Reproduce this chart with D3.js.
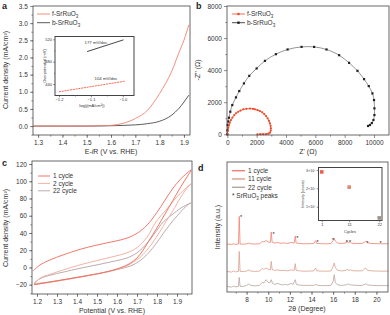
<!DOCTYPE html>
<html>
<head>
<meta charset="utf-8">
<script src="https://cdn.jsdelivr.net/npm/d3@7"></script>
<style>
body { margin: 0; background: #fff; }
svg { display: block; font-family: "Liberation Sans", Arial, sans-serif; }
</style>
</head>
<body>
<svg id="fig" width="390" height="315"></svg>
<script>
// ---- panel a : LSV ----
const lsvV      = [1.28, 1.40, 1.50, 1.55, 1.60, 1.65, 1.70, 1.75, 1.80, 1.85, 1.88, 1.90, 1.92];
const lsvFilm   = [0, 0, 0.003, 0.008, 0.02, 0.08, 0.22, 0.46, 0.95, 1.6, 2.15, 2.5, 2.95];
const lsvBulk   = [0, 0, 0, 0.003, 0.01, 0.02, 0.035, 0.07, 0.14, 0.32, 0.52, 0.7, 0.9];
const tafelFilm = [[-1.20, 426], [-0.994, 445]];
const tafelBulk = [[-1.112, 498], [-0.998, 519]];

// ---- panel b : Nyquist ----
const eisFilm = [[0,0],[30,200],[70,400],[116,560],[170,720],[252,890],[350,1040],[476,1200],[600,1310],
  [748,1406],[900,1480],[1088,1555],[1300,1590],[1544,1600],[1750,1590],[1884,1555],[2060,1510],
  [2224,1450],[2380,1370],[2517,1263],[2640,1140],[2748,995],[2840,840],[2905,684],[2950,530],
  [2973,373],[2960,230],[2905,100],[2800,40],[2650,15],[2450,8],[2250,5],[2050,0]];
const eisBulk = [[0,0],[10,250],[27,579],[70,800],[116,1033],[204,1406],[340,1823],[592,2302],
  [816,2694],[1136,3173],[1497,3645],[2000,4106],[2565,4579],[3313,4995],[4109,5288],[5061,5449],
  [5918,5449],[6762,5288],[7619,4933],[8299,4454],[8871,3957],[9320,3440],[9640,3005],[9891,2550],
  [10000,2134],[10027,1617],[10027,1200],[9959,890],[9850,700],[9720,580],[9592,516]];

// ---- panel c : CV ----
const cvNames = ["1 cycle", "2 cycle", "22 cycle"];
const cv1  = [[1.18,-4],[1.215,2.9],[1.265,8.7],[1.33,14.5],[1.415,21],[1.5,26],[1.58,30],[1.65,34],
  [1.70,39.6],[1.75,49],[1.80,64],[1.84,78],[1.88,92],[1.92,103],[1.97,113],
  [1.95,105],[1.92,94],[1.88,78],[1.84,62],[1.80,46],[1.76,31],[1.73,20],[1.70,11],[1.66,4],[1.62,0],
  [1.55,-5],[1.45,-9.5],[1.35,-13.5],[1.25,-17.5],[1.185,-20]];
const cv2  = [[1.185,-20],[1.215,-12.5],[1.265,-8],[1.33,-3],[1.415,3],[1.5,8],[1.58,12.5],[1.65,17],
  [1.70,23],[1.75,35],[1.795,53],[1.85,68],[1.90,82],[1.94,91],[1.97,97],
  [1.95,92],[1.92,82],[1.88,66],[1.85,55],[1.81,40],[1.77,26],[1.73,15],[1.70,9],[1.65,2],[1.60,-2],
  [1.50,-7.5],[1.40,-12],[1.30,-16],[1.185,-20]];
const cv22 = [[1.185,-18],[1.215,-13],[1.265,-9],[1.33,-5.5],[1.415,-1],[1.5,3],[1.58,7],[1.65,11],
  [1.70,17],[1.75,28],[1.79,40],[1.832,53],[1.88,62],[1.92,69],[1.97,75],
  [1.95,72],[1.92,65],[1.89,57],[1.865,50],[1.83,39],[1.79,26],[1.75,15],[1.71,7],[1.67,2],[1.60,-2.5],
  [1.50,-7.5],[1.40,-11.5],[1.30,-15.5],[1.185,-19]];

// ---- panel d : XRD ----
const xrdNames = ["1 cycle", "11 cycle", "22 cycle"];
const xrd1 = [[6.2,1],[6.6,0.5],[6.8,1.2],[7.0,0.6],[7.25,1],[7.32,28.6],[7.4,1],[7.7,0.8],[8.0,1.2],
  [8.2,2],[8.4,1.2],[8.8,1],[9.2,1.3],[9.45,3.5],[9.6,3],[9.8,4.5],[10.0,3],[10.2,2.5],[10.28,13],
  [10.36,3],[10.6,2],[10.9,2.5],[11.1,1.8],[11.5,2],[11.8,1.5],[12.1,2.5],[12.4,2],[12.5,9],[12.58,2],
  [12.9,1.5],[13.3,1.2],[13.8,1.3],[14.2,1.5],[14.38,4.3],[14.48,1.6],[14.9,1.3],[15.4,1.2],[15.8,1.5],
  [16.0,4.5],[16.1,6.7],[16.2,4],[16.4,2],[16.8,1.5],[17.2,2],[17.27,4],[17.4,2.2],[17.57,3.3],[17.7,1.8],
  [18.2,1.5],[18.7,1.6],[18.9,3],[19.0,4],[19.15,2.2],[19.6,1.5],[20.2,1.3],[20.7,1.2],[21.1,1.3]];
const xrd11 = [[6.2,1],[6.6,0.3],[6.8,1.5],[7.0,0.5],[7.25,1],[7.32,21],[7.4,1],[7.7,0.8],[8.0,1.3],
  [8.2,2.5],[8.4,1.3],[8.8,1],[9.2,1.3],[9.45,4],[9.6,3],[9.8,4.5],[10.0,3],[10.2,2.5],[10.28,11],
  [10.36,3],[10.6,2],[10.9,2.5],[11.1,1.8],[11.5,2],[11.8,1.5],[12.1,2.5],[12.4,2],[12.5,8.7],[12.58,2],
  [12.9,1.5],[13.3,1.2],[13.8,1.3],[14.2,1.5],[14.38,4.4],[14.48,1.6],[14.9,1.3],[15.4,1.2],[15.8,1.5],
  [16.0,6],[16.1,9.4],[16.2,5],[16.4,2],[16.8,1.5],[17.2,2],[17.3,3.4],[17.45,2],[17.6,2.6],[17.75,1.8],
  [18.2,1.5],[18.7,1.6],[18.9,3.5],[19.0,4.4],[19.15,2.2],[19.6,1.5],[20.2,1.3],[20.7,1.2],[21.1,1.3]];
const xrd22 = [[6.2,1],[6.6,0.3],[6.8,1.3],[7.0,0.5],[7.25,1],[7.32,10],[7.4,1],[7.7,1],[8.0,2],
  [8.2,3.5],[8.4,2],[8.8,1.5],[9.2,2],[9.45,5],[9.6,4.5],[9.8,7.7],[10.0,5],[10.15,4.5],[10.28,7.7],
  [10.4,4],[10.6,3],[10.9,4],[11.1,3],[11.3,2.5],[11.5,3],[11.8,2.5],[12.1,4],[12.3,3],[12.5,7.7],
  [12.6,3],[12.9,2.2],[13.3,2],[13.8,2],[14.2,2],[14.4,3],[14.6,2],[14.9,1.8],[15.4,1.8],[15.8,2],
  [16.0,6],[16.1,12.7],[16.2,5],[16.4,2.5],[16.8,2],[17.2,2.5],[17.4,3.5],[17.6,2.5],[18.2,2],
  [18.7,2],[19.0,3.5],[19.2,2.5],[19.6,2],[20.2,1.8],[20.7,1.8],[21.1,1.8]];
const xrdBase  = [47, 19.6, 4.6];
const starPos  = [7.48, 10.5, 12.68, 14.57, 16.0, 17.27, 17.57, 19.16, 20.39];
const starHt   = [28.6, 12, 8, 3.6, 6, 4.3, 3.6, 3, 3];
const insetCycles    = [1, 11, 22];
const insetIntensity = [2.9e7, 2.07e7, 0.39e7];

const red = "#f4806e", dark = "#4a4a4a";
const cvColors  = ["#f06a5a", "#f2aa9a", "#b4a4a4"];
const xrdColors = ["#f08070", "#dca08c", "#b8a49c"];
const FONT = "'Liberation Sans', Arial, sans-serif";

const svg = d3.select("#fig");



// PANEL HELPERS

function panel(box, xd, yd)
{
  const x = d3.scaleLinear().domain(xd).range([box.l, box.r]);
  const y = d3.scaleLinear().domain(yd).range([box.b, box.t]);
  const g = svg.append("g");
  return {x: x, y: y, g: g, box: box};
}

function frame(p, sw)
{
  p.g.append("rect")
    .attr("x", p.box.l).attr("y", p.box.t)
    .attr("width", p.box.r - p.box.l).attr("height", p.box.b - p.box.t)
    .attr("fill", "none").attr("stroke", "#444").attr("stroke-width", sw || 0.8);
}

function axis(p, side, ticks, minor, fmt, fs, size)
{
  size = size || 3;
  const bottom = side == "bottom";
  const make = s => (bottom ? d3.axisBottom(p.x) : d3.axisLeft(p.y)).tickSizeOuter(0).tickSize(s);
  const pos = bottom ? `translate(0,${p.box.b})` : `translate(${p.box.l},0)`;
  if(minor)
  {
    const m = p.g.append("g").attr("transform", pos)
      .call(make(size * 0.55).tickValues(minor).tickFormat(""));
    m.select(".domain").remove();
    m.selectAll("line").attr("stroke", "#444").attr("stroke-width", 0.6);
  }
  const a = p.g.append("g").attr("transform", pos)
    .call(make(size).tickValues(ticks).tickPadding(size * 0.7).tickFormat(fmt));
  a.attr("font-size", fs).attr("font-family", FONT);
  a.select(".domain").remove();
  a.selectAll("line").attr("stroke", "#444").attr("stroke-width", 0.6);
  a.selectAll("text").attr("fill", "#333");
  return a;
}

function label(g, x, y, txt, fs, rot, anchor)
{
  return g.append("text")
    .attr("transform", `translate(${x},${y})` + (rot ? ` rotate(${rot})` : ""))
    .attr("text-anchor", anchor || "middle")
    .attr("font-size", fs).attr("fill", "#333")
    .text(txt);
}

function srruo(g, x, y, prefix, fs)
{
  const t = g.append("text").attr("x", x).attr("y", y).attr("font-size", fs).attr("fill", "#333");
  t.append("tspan").text(prefix + "SrRuO");
  t.append("tspan").attr("font-size", fs * 0.7).attr("dy", fs * 0.25).text("3");
  return t;
}

function letter(x, y, s)
{
  svg.append("text").attr("x", x).attr("y", y)
    .attr("font-size", 9).attr("font-weight", "bold").attr("fill", "#222").text(s);
}

const fmt1 = d3.format(".1f");



// PANEL A

const pa = panel({l: 33, r: 190, t: 6, b: 135}, [1.279, 1.925], [-0.26, 3.5]);
const lineA = d3.line().x(d => pa.x(d[0])).y(d => pa.y(d[1])).curve(d3.curveMonotoneX);
pa.g.append("path").datum(lsvV.map((v, i) => [v, lsvBulk[i]]))
  .attr("d", lineA).attr("fill", "none").attr("stroke", dark).attr("stroke-width", 0.9);
pa.g.append("path").datum(lsvV.map((v, i) => [v, lsvFilm[i]]))
  .attr("d", lineA).attr("fill", "none").attr("stroke", red).attr("stroke-width", 0.9);
frame(pa);
axis(pa, "bottom", d3.range(1.3, 1.95, 0.1), d3.range(1.3, 1.93, 0.05), fmt1, 6.5);
axis(pa, "left", d3.range(0, 3.51, 0.5), d3.range(-0.25, 3.5, 0.25), fmt1, 6.5);
label(svg, 111, 154, "", 7).call(t => {
  t.append("tspan").text("E-");
  t.append("tspan").attr("font-style", "italic").text("i");
  t.append("tspan").text("R (V vs. RHE)");
});
label(svg, 8, 70, "Current density (mA/cm²)", 7, -90);

// legend a
[[red, "f-", 14], [dark, "b-", 22.7]].forEach(l => {
  pa.g.append("line").attr("x1", 37).attr("x2", 50).attr("y1", l[2]).attr("y2", l[2])
    .attr("stroke", l[0]).attr("stroke-width", 0.9);
  srruo(pa.g, 52, l[2] + 2.3, l[1], 6.5);
});

// inset a
const ia = panel({l: 55, r: 134, t: 36.5, b: 95.5}, [-1.2125, -0.965], [419.4, 525]);
ia.g.append("rect").attr("x", 55).attr("y", 36.5).attr("width", 79).attr("height", 59).attr("fill", "#fff");
const lineI = d3.line().x(d => ia.x(d[0])).y(d => ia.y(d[1]));
ia.g.append("path").datum(tafelBulk).attr("d", lineI)
  .attr("fill", "none").attr("stroke", "#333").attr("stroke-width", 0.9);
ia.g.append("path").datum(tafelFilm).attr("d", lineI)
  .attr("fill", "none").attr("stroke", "#f05a40").attr("stroke-width", 0.9).attr("stroke-dasharray", "2,0.8");
frame(ia, 1);
axis(ia, "bottom", [-1.2, -1.1, -1.0], [-1.15, -1.05], fmt1, 4, 1.8);
axis(ia, "left", [440, 480, 520], [460, 500], d3.format("d"), 4, 1.8);
label(ia.g, 96, 43.5, "177 mV/dec", 4.3, 0, "middle");
label(ia.g, 106, 80, "104 mV/dec", 4.3, 0, "middle");
label(ia.g, 46, 66, "Overpotential (mV)", 4, -90);
label(ia.g, 92, 107, "log(j(mA/cm²))", 4);



// PANEL B

const pb = panel({l: 227, r: 389, t: 6, b: 135}, [-20, 11020], [-45, 8000]);
const lineB = d3.line().x(d => pb.x(d[0])).y(d => pb.y(d[1])).curve(d3.curveCatmullRom);
pb.g.append("path").datum(eisBulk).attr("d", lineB)
  .attr("fill", "none").attr("stroke", "#666").attr("stroke-width", 0.7);
pb.g.selectAll(".mb").data(eisBulk).enter().append("rect")
  .attr("x", d => pb.x(d[0]) - 1.1).attr("y", d => pb.y(d[1]) - 1.1)
  .attr("width", 2.2).attr("height", 2.2).attr("fill", "#222");
pb.g.append("path").datum(eisFilm).attr("d", lineB)
  .attr("fill", "none").attr("stroke", "#f05030").attr("stroke-width", 0.8);
pb.g.selectAll(".mf").data(eisFilm).enter().append("circle")
  .attr("cx", d => pb.x(d[0])).attr("cy", d => pb.y(d[1]))
  .attr("r", 1.1).attr("fill", "#f04a28");
frame(pb);
axis(pb, "bottom", d3.range(0, 10001, 2000), d3.range(1000, 11000, 2000), d3.format("d"), 6.5);
axis(pb, "left", d3.range(0, 8001, 2000), d3.range(1000, 8000, 2000), d3.format("d"), 6.5);
label(svg, 308, 154, "Z' (Ω)", 7);
label(svg, 200, 70, "-Z'' (Ω)", 7, -90);

[["#f04a28", "f-", 14, "c"], ["#222", "b-", 22.7, "s"]].forEach(l => {
  pb.g.append("line").attr("x1", 232).attr("x2", 245).attr("y1", l[2]).attr("y2", l[2])
    .attr("stroke", l[0]).attr("stroke-width", 0.8);
  if(l[3] == "c")
    pb.g.append("circle").attr("cx", 238.5).attr("cy", l[2]).attr("r", 1.3).attr("fill", l[0]);
  else
    pb.g.append("rect").attr("x", 237.3).attr("y", l[2] - 1.2).attr("width", 2.4).attr("height", 2.4).attr("fill", l[0]);
  srruo(pb.g, 247, l[2] + 2.3, l[1], 6.5);
});



// PANEL C

const pc = panel({l: 32, r: 192, t: 161, b: 294}, [1.175, 1.975], [-30.8, 123.5]);
const lineC = d3.line().x(d => pc.x(d[0])).y(d => pc.y(d[1])).curve(d3.curveCatmullRom);
[cv22, cv2, cv1].forEach((c, i) => {
  pc.g.append("path").datum(c).attr("d", lineC)
    .attr("fill", "none").attr("stroke", cvColors[2 - i]).attr("stroke-width", 0.9);
});
frame(pc);
axis(pc, "bottom", d3.range(1.2, 1.95, 0.1), d3.range(1.2, 1.96, 0.05), fmt1, 6.5);
axis(pc, "left", d3.range(-20, 121, 20), d3.range(-30, 121, 10), d3.format("d"), 6.5);
label(svg, 112, 312.5, "Potential (V vs. RHE)", 7);
label(svg, 8, 228, "Current density (mA/cm²)", 7, -90);

cvNames.forEach((n, i) => {
  const yy = 176 + i * 7.4;
  pc.g.append("line").attr("x1", 38).attr("x2", 50).attr("y1", yy).attr("y2", yy)
    .attr("stroke", cvColors[i]).attr("stroke-width", 0.9);
  label(pc.g, 53, yy + 2.3, n, 6.5, 0, "start");
});



// PANEL D

const pd = panel({l: 227, r: 388, t: 162, b: 292}, [6.19, 21.07], [0, 130]);
[xrd1, xrd11, xrd22].forEach((tr, i) => {
  const lineD = d3.line().x(d => pd.x(d[0])).y(d => pd.y(d[1] + xrdBase[i]));
  pd.g.append("path").datum(tr).attr("d", lineD)
    .attr("fill", "none").attr("stroke", xrdColors[i]).attr("stroke-width", 0.8);
});
pd.g.selectAll(".star").data(starPos).enter().append("text")
  .attr("x", d => pd.x(d)).attr("y", (d, i) => pd.y(starHt[i] + xrdBase[0]) + 3)
  .attr("font-size", 5.5).attr("text-anchor", "middle").attr("fill", "#222").text("*");
frame(pd);
axis(pd, "bottom", d3.range(8, 21, 2), d3.range(7, 21, 1), d3.format("d"), 6.5);
label(svg, 307, 311, "2θ (Degree)", 7);
label(svg, 220, 227, "Intensity (a.u.)", 7, -90);

xrdNames.forEach((n, i) => {
  const yy = 170.7 + i * 8.3;
  pd.g.append("line").attr("x1", 232).attr("x2", 245).attr("y1", yy).attr("y2", yy)
    .attr("stroke", xrdColors[i]).attr("stroke-width", 1.4);
  label(pd.g, 248, yy + 2.3, n, 6.5, 0, "start");
});
const st = pd.g.append("text").attr("x", 232).attr("y", 198).attr("font-size", 6.5).attr("fill", "#333");
st.append("tspan").text("* SrRuO");
st.append("tspan").attr("font-size", 4.5).attr("dy", 1.6).text("3");
st.append("tspan").attr("dy", -1.6).text(" peaks");

// inset d
const idn = panel({l: 318.5, r: 382, t: 167.5, b: 220.5}, [-0.2, 23], [0.25e7, 3.14e7]);
frame(idn, 1);
idn.g.selectAll(".sq").data(insetCycles).enter().append("rect")
  .attr("x", d => idn.x(d) - 1.8).attr("y", (d, i) => idn.y(insetIntensity[i]) - 1.8)
  .attr("width", 3.6).attr("height", 3.6)
  .attr("fill", (d, i) => ["#f06050", "#e08a6a", "#a09088"][i]);
axis(idn, "bottom", insetCycles, null, d3.format("d"), 4, 1.8);
axis(idn, "left", [1e7, 2e7, 3e7], null, d => (d / 1e7) + "×10⁷", 3.6, 1.8);
label(idn.g, 350, 233, "Cycles", 4);
label(idn.g, 304, 194, "Intensity (counts)", 3.6, -90);

letter(2, 9, "a");
letter(196, 9, "b");
letter(2, 166, "c");
letter(198, 171, "d");
</script>
</body>
</html>
